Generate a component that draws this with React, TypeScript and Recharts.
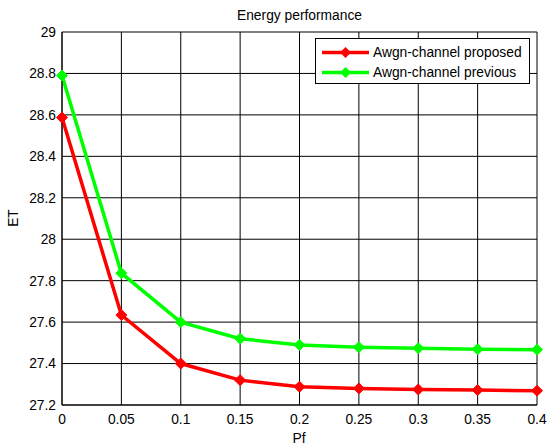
import React from 'react';
import { LineChart, Line, XAxis, YAxis, CartesianGrid } from 'recharts';

const pfValues = [0, 0.05, 0.1, 0.15, 0.2, 0.25, 0.3, 0.35, 0.4];
const proposed = [28.587, 27.634, 27.4, 27.32, 27.288, 27.28, 27.275, 27.272, 27.269];
const previous = [28.79, 27.836, 27.6, 27.52, 27.49, 27.479, 27.474, 27.469, 27.467];
const seriesNames = ['Awgn-channel proposed', 'Awgn-channel previous'];
const seriesColors = ['#ff0000', '#00ff00'];
const xTicks = [0, 0.05, 0.1, 0.15, 0.2, 0.25, 0.3, 0.35, 0.4];
const yTicks = [27.2, 27.4, 27.6, 27.8, 28, 28.2, 28.4, 28.6, 28.8, 29];
const title = 'Energy performance';
const xLabel = 'Pf';
const yLabel = 'ET';

const data = pfValues.map((pf, i) => ({ pf, proposed: proposed[i], previous: previous[i] }));

const FONT = 'Arial, "Liberation Sans", Helvetica, sans-serif';
const FS = 13.8;

const Diamond = (color: string) => (props: any) => {
  const { cx, cy, index } = props;
  if (cx == null || cy == null) return <g key={index} />;
  const s = 5.5;
  return (
    <polygon
      key={index}
      points={`${cx},${cy - s} ${cx + s},${cy} ${cx},${cy + s} ${cx - s},${cy}`}
      fill={color}
      stroke={color}
      strokeWidth={1}
    />
  );
};

export default function App() {
  return (
    <div style={{ position: 'absolute', left: 0, top: 0, width: 547, height: 446, background: '#fff', fontFamily: FONT }}>
      <LineChart
        width={547}
        height={446}
        data={data}
        margin={{ top: 32, right: 10, left: 0, bottom: 0 }}
      >
        <CartesianGrid stroke="#000" strokeWidth={1} />
        <XAxis
          dataKey="pf"
          type="number"
          domain={[0, 0.4]}
          ticks={xTicks}
          interval={0}
          height={41}
          tickLine={false}
          tickSize={6}
          tickMargin={3}
          axisLine={{ stroke: '#000', strokeWidth: 1 }}
          tick={{ fill: '#000', fontSize: FS, fontFamily: FONT }}
          tickFormatter={(v: number) => String(+v.toFixed(2))}
          label={{
            content: () => (
              <text x={299} y={438} textAnchor="middle" dominantBaseline="central" fill="#000" fontSize={FS} fontFamily={FONT}>
                {xLabel}
              </text>
            ),
          }}
        />
        <YAxis
          type="number"
          domain={[27.2, 29]}
          ticks={yTicks}
          interval={0}
          width={62}
          tickLine={false}
          tickSize={4}
          tickMargin={2}
          axisLine={{ stroke: '#000', strokeWidth: 1 }}
          tick={{ fill: '#000', fontSize: FS, fontFamily: FONT }}
          tickFormatter={(v: number) => String(+v.toFixed(1))}
          label={{
            content: () => (
              <text x={13} y={218} transform="rotate(-90 13 218)" textAnchor="middle" dominantBaseline="central" fill="#000" fontSize={FS} fontFamily={FONT}>
                {yLabel}
              </text>
            ),
          }}
        />
        <Line
          type="linear"
          dataKey="previous"
          stroke={seriesColors[1]}
          strokeWidth={3.5}
          dot={Diamond(seriesColors[1])}
          activeDot={false}
          isAnimationActive={false}
        />
        <Line
          type="linear"
          dataKey="proposed"
          stroke={seriesColors[0]}
          strokeWidth={3.5}
          dot={Diamond(seriesColors[0])}
          activeDot={false}
          isAnimationActive={false}
        />
      </LineChart>
      <div
        style={{
          position: 'absolute',
          left: 0,
          top: 7,
          width: 599,
          textAlign: 'center',
          fontSize: FS,
          lineHeight: '17px',
          color: '#000',
        }}
      >
        {title}
      </div>
      <div
        style={{
          position: 'absolute',
          left: 315,
          top: 38,
          width: 213,
          height: 44,
          border: '1px solid #000',
          background: '#fff',
          boxSizing: 'content-box',
        }}
      >
        {seriesNames.map((name, i) => (
          <div key={name} style={{ position: 'absolute', left: 0, top: 4 + i * 19.5, height: 19, display: 'flex', alignItems: 'center' }}>
            <svg width={56} height={19} style={{ display: 'block' }}>
              <line x1={6} y1={9.5} x2={53} y2={9.5} stroke={seriesColors[i]} strokeWidth={3.5} />
              <polygon points="29.5,4 35,9.5 29.5,15 24,9.5" fill={seriesColors[i]} />
            </svg>
            <span style={{ fontSize: FS, color: '#000', whiteSpace: 'nowrap', marginLeft: 1 }}>{name}</span>
          </div>
        ))}
      </div>
    </div>
  );
}
